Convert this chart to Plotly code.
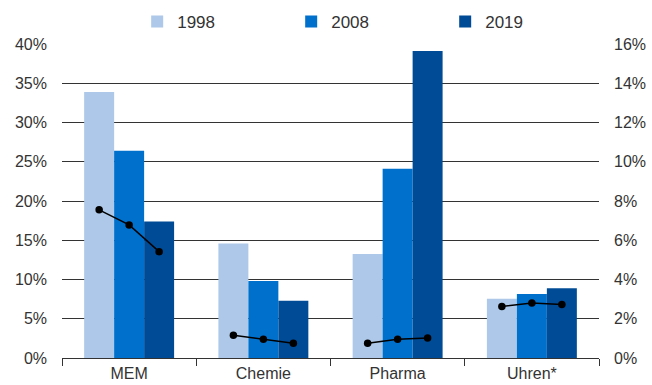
import plotly.graph_objects as go

categories = ["MEM", "Chemie", "Pharma", "Uhren*"]
years = ["1998", "2008", "2019"]
# bar values (left axis, %)
share_1998 = [33.9, 14.6, 13.25, 7.55]
share_2008 = [26.4, 9.8, 24.1, 8.15]
share_2019 = [17.4, 7.3, 39.1, 8.9]
# line values (right axis, %)
line_mem = [7.55, 6.78, 5.42]
line_chemie = [1.16, 0.95, 0.75]
line_pharma = [0.75, 0.95, 1.02]
line_uhren = [2.63, 2.80, 2.73]

colors = ["#ADC8E8", "#0070CD", "#004B96"]
bargap = 0.33

fig = go.Figure()
for yr, vals, col in zip(years, [share_1998, share_2008, share_2019], colors):
    fig.add_trace(go.Bar(x=categories, y=[v / 100 for v in vals], name=yr,
                         marker=dict(color=col, line=dict(width=0))))

bw = (1 - bargap) / len(years)
offsets = [(j - (len(years) - 1) / 2) * bw for j in range(len(years))]
for i, vals in enumerate([line_mem, line_chemie, line_pharma, line_uhren]):
    fig.add_trace(go.Scatter(x=[i + o for o in offsets], y=vals, xaxis="x2", yaxis="y2",
                             mode="lines+markers", showlegend=False,
                             line=dict(color="black", width=1.5),
                             marker=dict(color="black", size=7.5)))

font = dict(family="Liberation Sans, Arial, sans-serif", size=16, color="#333333")
fig.update_layout(
    width=652, height=385,
    margin=dict(l=62, r=53, t=44, b=27, autoexpand=False),
    paper_bgcolor="white", plot_bgcolor="white",
    font=font,
    barmode="group", bargap=bargap, bargroupgap=0,
    showlegend=True,
    legend=dict(orientation="h", x=0.14, y=0.943, xanchor="left", yanchor="middle",
                yref="container",
                entrywidth=109, entrywidthmode="pixels", font=dict(font, size=17),
                bgcolor="rgba(0,0,0,0)", itemwidth=30),
    xaxis=dict(type="category", tickson="boundaries", ticks="outside", ticklen=7,
               tickcolor="#333333", showline=True, linecolor="#333333", linewidth=1,
               showgrid=False, range=[-0.5, 3.5], ticklabelstandoff=1, automargin=False),
    xaxis2=dict(overlaying="x", range=[-0.5, 3.5], visible=False),
    yaxis=dict(range=[0, 0.40], dtick=0.05, tickformat=".0%", showgrid=True,
               gridcolor="#333333", gridwidth=1, zeroline=False, ticks="",
               ticklabelstandoff=14, automargin=False),
    yaxis2=dict(overlaying="y", side="right", range=[0, 16], dtick=2, ticksuffix="%",
                showgrid=False, zeroline=False, ticks="", ticklabelstandoff=14,
                automargin=False),
)
fig.write_html("out.html")
